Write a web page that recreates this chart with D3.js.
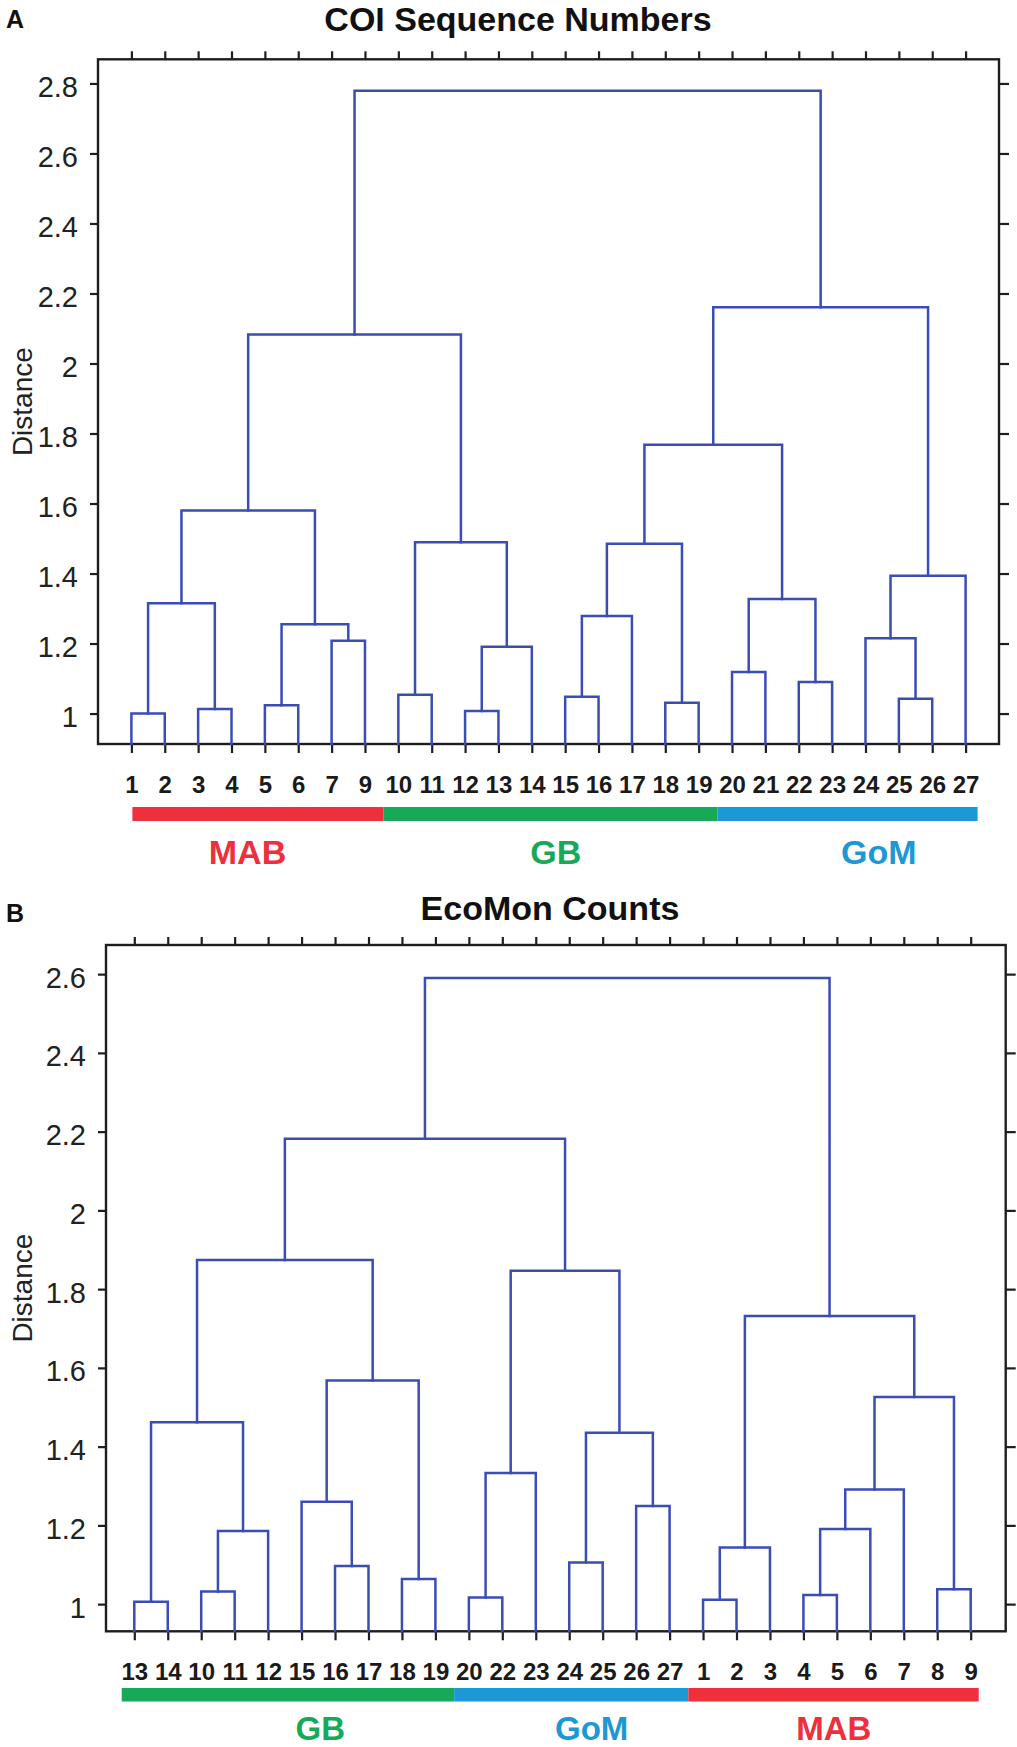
<!DOCTYPE html>
<html><head><meta charset="utf-8">
<script src="https://cdn.jsdelivr.net/npm/d3@7"></script>
<style>html,body{margin:0;padding:0;background:#fff}svg{display:block}</style>
</head><body><div id="chart"></div>
<script>
// ---------------- DATA ----------------
// Panel A: COI Sequence Numbers
const leavesA = ["1","2","3","4","5","6","7","9","10","11","12","13","14","15","16","17","18","19","20","21","22","23","24","25","26","27"];
// [cluster id, left child, right child, merge distance]
const mergesA = [
  ["a1","1","2",1.000],
  ["a2","3","4",1.013],
  ["a3","a1","a2",1.315],
  ["a4","5","6",1.024],
  ["a5","7","9",1.208],
  ["a6","a4","a5",1.255],
  ["a7","a3","a6",1.580],
  ["a8","10","11",1.054],
  ["a9","12","13",1.007],
  ["a10","a9","14",1.191],
  ["a11","a8","a10",1.489],
  ["a12","a7","a11",2.083],
  ["a13","15","16",1.048],
  ["a14","a13","17",1.279],
  ["a15","18","19",1.031],
  ["a16","a14","a15",1.485],
  ["a17","20","21",1.119],
  ["a18","22","23",1.090],
  ["a19","a17","a18",1.327],
  ["a20","a16","a19",1.768],
  ["a21","25","26",1.042],
  ["a22","24","a21",1.215],
  ["a23","a22","27",1.394],
  ["a24","a20","a23",2.161],
  ["a25","a12","a24",2.779]
];
const groupNamesA = ["MAB","GB","GoM"];
const groupFirstA = ["1","10","20"];
const groupLastA  = ["9","19","27"];
const yTicksA = [1,1.2,1.4,1.6,1.8,2,2.2,2.4,2.6,2.8];

// Panel B: EcoMon Counts
const leavesB = ["13","14","10","11","12","15","16","17","18","19","20","22","23","24","25","26","27","1","2","3","4","5","6","7","8","9"];
const mergesB = [
  ["b1","13","14",1.006],
  ["b2","10","11",1.032],
  ["b3","b2","12",1.186],
  ["b4","b1","b3",1.462],
  ["b5","16","17",1.097],
  ["b6","15","b5",1.260],
  ["b7","18","19",1.064],
  ["b8","b6","b7",1.568],
  ["b9","b4","b8",1.874],
  ["b10","20","22",1.017],
  ["b11","b10","23",1.333],
  ["b12","24","25",1.106],
  ["b13","26","27",1.249],
  ["b14","b12","b13",1.435],
  ["b15","b11","b14",1.847],
  ["b16","b9","b15",2.182],
  ["b17","1","2",1.011],
  ["b18","b17","3",1.144],
  ["b19","4","5",1.023],
  ["b20","b19","6",1.191],
  ["b21","b20","7",1.291],
  ["b22","8","9",1.038],
  ["b23","b21","b22",1.526],
  ["b24","b18","b23",1.732],
  ["b25","b16","b24",2.590]
];
const groupNamesB = ["GB","GoM","MAB"];
const groupFirstB = ["13","20","1"];
const groupLastB  = ["19","27","9"];
const yTicksB = [1,1.2,1.4,1.6,1.8,2,2.2,2.4,2.6];

const groupColors = {MAB:"#ee2f3c", GB:"#17a957", GoM:"#1d98d6"};

// ---------------- LAYOUT ----------------
const W = 1017, H = 1747;
const FONT = "'Liberation Sans', Arial, Helvetica, sans-serif";
const LINE = "#3a4db5";
const AXIS = "#1e1e1e";

const layoutA = {
  left:98, right:999, top:59.3, bottom:744,
  leaf0:131.4, leafN:965.6, yDomain:[0.913, 2.869],
  barY:807, barH:14, barPadL:1, barPadR:12,
  labelBase:864, labelSize:34, labelIdx:[3.48, 12.72, 22.4],
  title:"COI Sequence Numbers", titleX:518, titleY:31,
  letter:"A", letterY:28
};
const layoutB = {
  left:106, right:1005.7, top:945, bottom:1631.3,
  leaf0:134.3, leafN:970.7, yDomain:[0.931, 2.674],
  barY:1688, barH:13.5, barPadL:-12.6, barPadR:8,
  labelBase:1740, labelSize:33, labelIdx:[5.56, 13.67, 20.91],
  title:"EcoMon Counts", titleX:550, titleY:920,
  letter:"B", letterY:922
};

const svg = d3.select("#chart").append("svg")
  .attr("width", W).attr("height", H)
  .attr("viewBox", `0 0 ${W} ${H}`)
  .style("font-family", FONT);

function drawPanel(leaves, merges, gNames, gFirst, gLast, yTicks, L) {
  const g = svg.append("g");
  const n = leaves.length;
  const x = d3.scaleLinear().domain([0, n - 1]).range([L.leaf0, L.leafN]);
  const y = d3.scaleLinear().domain(L.yDomain).range([L.bottom, L.top]);

  // node positions
  const pos = new Map();
  leaves.forEach((l, i) => pos.set(l, {x: x(i), h: L.yDomain[0]}));
  const links = [];
  merges.forEach(([id, a, b, h]) => {
    const pa = pos.get(a), pb = pos.get(b);
    pos.set(id, {x: (pa.x + pb.x) / 2, h});
    links.push({pa, pb, h});
  });

  // axes
  const fmt = d3.format("~g");
  const gl = g.append("g").attr("transform", `translate(${L.left},0)`)
    .call(d3.axisLeft(y).tickValues(yTicks).tickSize(8).tickPadding(12).tickFormat(fmt));
  gl.selectAll("text").attr("dy", "0.45em").style("font-size", "29px").attr("fill", "#222");
  g.append("g").attr("transform", `translate(${L.right},0)`)
    .call(d3.axisRight(y).tickValues(yTicks).tickSize(10).tickFormat(""));
  g.append("g").attr("transform", `translate(0,${L.top})`)
    .call(d3.axisTop(x).tickValues(d3.range(n)).tickSize(8).tickFormat(""));
  const gb = g.append("g").attr("transform", `translate(0,${L.bottom})`)
    .call(d3.axisBottom(x).tickValues(d3.range(n)).tickSize(9).tickPadding(23).tickFormat(i => leaves[i]));
  gb.selectAll("text").style("font-size", "24px").style("font-weight", "bold").attr("fill", "#1a1a1a");
  g.selectAll(".domain").remove();
  g.selectAll(".tick line").attr("stroke", AXIS).attr("stroke-width", 2.2);
  g.selectAll(".tick text").style("font-family", FONT);

  // box
  g.append("rect")
    .attr("x", L.left).attr("y", L.top)
    .attr("width", L.right - L.left).attr("height", L.bottom - L.top)
    .attr("fill", "none").attr("stroke", AXIS).attr("stroke-width", 2.4);

  // dendrogram links
  g.append("g").selectAll("path").data(links).join("path")
    .attr("d", d => `M${d.pa.x},${y(d.pa.h)}V${y(d.h)}H${d.pb.x}V${y(d.pb.h)}`)
    .attr("fill", "none").attr("stroke", LINE).attr("stroke-width", 2.5)
    .attr("stroke-linejoin", "miter").attr("stroke-linecap", "square");

  // group bars
  const idx = l => leaves.indexOf(l);
  gNames.forEach((name, k) => {
    const i0 = idx(gFirst[k]), i1 = idx(gLast[k]);
    const x0 = k === 0 ? x(i0) + L.barPadL : (x(i0 - 1) + x(i0)) / 2 + 2;
    const x1 = k === gNames.length - 1 ? x(i1) + L.barPadR : (x(i1) + x(i1 + 1)) / 2 + 2;
    g.append("rect").attr("x", x0).attr("y", L.barY).attr("width", x1 - x0).attr("height", L.barH)
      .attr("fill", groupColors[name]);
    g.append("text").attr("x", x(L.labelIdx[k])).attr("y", L.labelBase)
      .attr("text-anchor", "middle").style("font-size", L.labelSize + "px").style("font-weight", "bold")
      .attr("fill", groupColors[name]).text(name);
  });

  // y label
  g.append("text")
    .attr("transform", `translate(32,${(L.top + L.bottom) / 2}) rotate(-90)`)
    .attr("text-anchor", "middle").style("font-size", "28px").attr("fill", "#222")
    .text("Distance");

  // title & letter
  g.append("text").attr("x", L.titleX).attr("y", L.titleY).attr("text-anchor", "middle")
    .style("font-size", "34px").style("font-weight", "bold").attr("fill", "#111").text(L.title);
  g.append("text").attr("x", 6).attr("y", L.letterY)
    .style("font-size", "25px").style("font-weight", "bold").attr("fill", "#111").text(L.letter);
}

drawPanel(leavesA, mergesA, groupNamesA, groupFirstA, groupLastA, yTicksA, layoutA);
drawPanel(leavesB, mergesB, groupNamesB, groupFirstB, groupLastB, yTicksB, layoutB);
</script>
</body></html>
